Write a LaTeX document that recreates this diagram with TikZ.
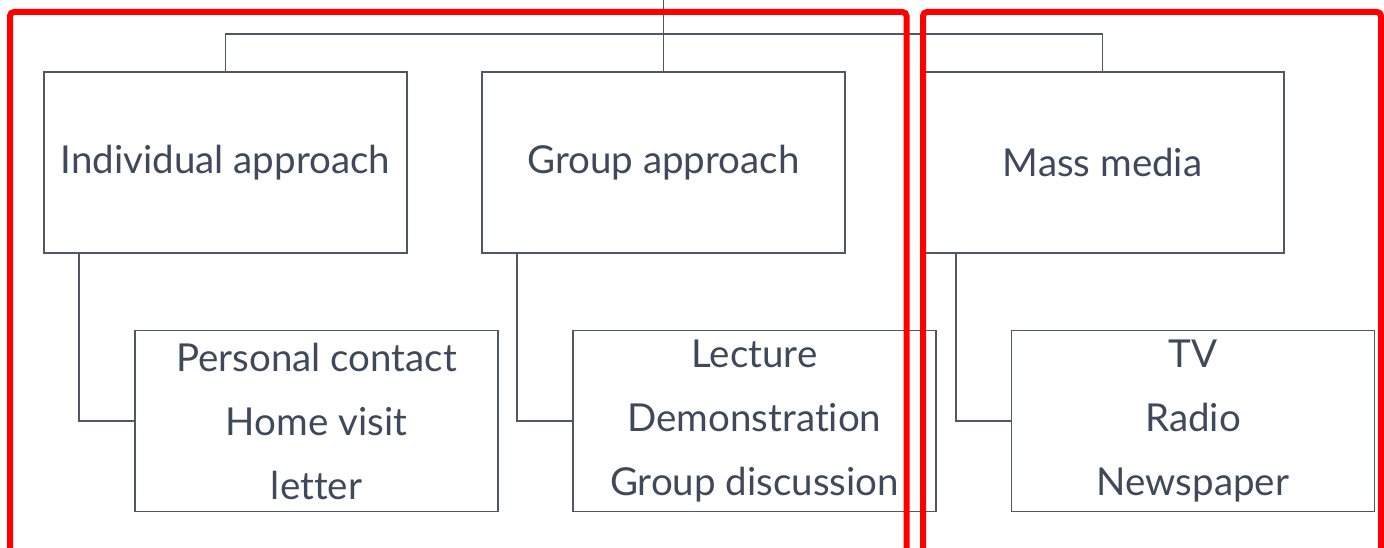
\documentclass[tikz,border=0pt]{standalone}
\usepackage{fontspec}
\setmainfont{Lato}[Ligatures={NoCommon}]
\definecolor{linegray}{HTML}{4F5965}
\definecolor{textgray}{HTML}{3E4A5C}
\definecolor{redline}{HTML}{FF0000}
\begin{document}
\begin{tikzpicture}[x=1pt,y=-1pt,
  box/.style={draw=linegray, line width=1.8pt, minimum width=363pt, minimum height=181pt,
    inner sep=0pt, text=textgray, font=\fontsize{38.5}{64}\selectfont, align=center},
  conn/.style={draw=linegray, line width=1.8pt},
  redbox/.style={draw=redline, line width=6pt, rounded corners=4pt}]
\useasboundingbox (0,0) rectangle (1384,548);
\clip (0,0) rectangle (1384,548);
\node[box] (ind) at (225.5,162.5) {Individual approach};
\node[box] (grp) at (663.5,162.5) {Group approach};
\node[box] (mass) at (1102.5,162.5) {Mass media};
\node[box] (s1) at (316.5,421) {Personal contact\\Home visit\\letter};
\node[box] (s2) at (754.5,421) {Lecture\\Demonstration\\Group discussion};
\node[box] (s3) at (1193,421) {TV\\Radio\\Newspaper};
\coordinate (top) at (663.5,-5);
\draw[conn] (top) -- (grp.north);
\draw[conn] (ind.north) -- ++(0,-37) -| (mass.north);
\draw[conn] ([xshift=36pt]ind.south west) |- (s1.west);
\draw[conn] ([xshift=36pt]grp.south west) |- (s2.west);
\draw[conn] ([xshift=36pt]mass.south west) |- (s3.west);
\coordinate (r1a) at (10,560);
\coordinate (r1b) at (10,12);
\coordinate (r1c) at (906.5,12);
\coordinate (r1d) at (906.5,560);
\coordinate (r2a) at (923,560);
\coordinate (r2b) at (923,12);
\coordinate (r2c) at (1381,12);
\coordinate (r2d) at (1381,560);
\draw[redbox] (r1a) -- (r1b) -- (r1c) -- (r1d);
\draw[redbox] (r2a) -- (r2b) -- (r2c) -- (r2d);
\end{tikzpicture}
\end{document}
